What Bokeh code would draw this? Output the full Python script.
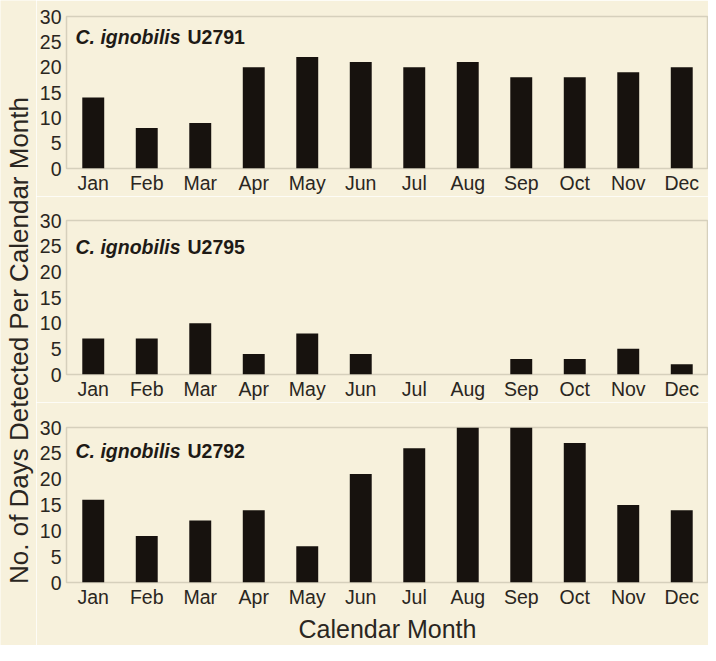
import math
from bokeh.plotting import figure
from bokeh.layouts import row, column
from bokeh.models import ColumnDataSource, FactorRange, Range1d, FixedTicker, Label
from bokeh.embed import file_html
from bokeh.resources import INLINE

# ---- data ----
months = ["Jan", "Feb", "Mar", "Apr", "May", "Jun", "Jul", "Aug", "Sep", "Oct", "Nov", "Dec"]
days_u2791 = [14, 8, 9, 20, 22, 21, 20, 21, 18, 18, 19, 20]
days_u2795 = [7, 7, 10, 4, 8, 4, 0, 0, 3, 3, 5, 2]
days_u2792 = [16, 9, 12, 14, 7, 21, 26, 30, 30, 27, 15, 14]
species = "C. ignobilis"
tags = ["U2791", "U2795", "U2792"]
y_ticks = [0, 5, 10, 15, 20, 25, 30]
y_title = "No. of Days Detected Per Calendar Month"
x_title = "Calendar Month"

BG = "#f7f1dc"
BAR = "#17120e"
TXT = "#2a2621"
LINE = "#d6d0bc"
FONT = "Liberation Sans"

TOTAL_H = 645
TITLE_W = 36
PANEL_W = 672


def panel(values, tag, height, top, bottom, label_y, show_xtitle=False):
    p = figure(x_range=FactorRange(*months, range_padding=0), y_range=Range1d(0, 30),
               width=PANEL_W, height=height, output_backend="svg", toolbar_location=None,
               min_border_left=30, min_border_right=0, min_border_top=top, min_border_bottom=bottom,
               background_fill_color=BG, border_fill_color=BG)
    src = ColumnDataSource(dict(m=months, v=values))
    p.vbar(x="m", top="v", width=0.41, bottom=0, source=src, fill_color=BAR, line_color=None)
    p.xgrid.visible = False
    p.ygrid.visible = False
    p.outline_line_color = LINE
    p.outline_line_width = 1.5
    for ax in (p.xaxis[0], p.yaxis[0]):
        ax.axis_line_color = None
        ax.major_tick_line_color = None
        ax.minor_tick_line_color = None
        ax.major_tick_out = 0
        ax.major_tick_in = 0
        ax.major_label_text_font = FONT
        ax.major_label_text_font_size = "19.5px"
        ax.major_label_text_color = TXT
    p.xaxis.major_label_standoff = 3
    p.yaxis.major_label_standoff = 5
    p.yaxis.ticker = FixedTicker(ticks=y_ticks)
    if show_xtitle:
        p.xaxis.axis_label = x_title
        p.xaxis.axis_label_text_font = FONT
        p.xaxis.axis_label_text_font_size = "25px"
        p.xaxis.axis_label_text_font_style = "normal"
        p.xaxis.axis_label_text_color = TXT
        p.xaxis.axis_label_standoff = 4
    p.add_layout(Label(x=0, y=label_y, x_offset=9, text=species, text_font=FONT,
                       text_font_size="19.5px", text_font_style="bold italic",
                       text_color="#1e1a16", text_baseline="alphabetic"))
    p.add_layout(Label(x=0, y=label_y, x_offset=121, text=tag, text_font=FONT,
                       text_font_size="19.5px", text_font_style="bold",
                       text_color="#1e1a16", text_baseline="alphabetic"))
    return p


p1 = panel(days_u2791, tags[0], 196, 16, 26, 25.9)
p2 = panel(days_u2795, tags[1], 206, 24, 26, 24.8)
p3 = panel(days_u2792, tags[2], 243, 25, 61, 25.4, show_xtitle=True)

t = figure(width=TITLE_W, height=TOTAL_H, x_range=Range1d(0, TITLE_W), y_range=Range1d(0, TOTAL_H),
           output_backend="svg", toolbar_location=None, min_border=0,
           background_fill_color=BG, border_fill_color=BG)
t.axis.visible = False
t.grid.visible = False
t.outline_line_color = None
t.add_layout(Label(x=18, y=305, text=y_title, angle=math.pi / 2, text_font=FONT,
                   text_font_size="26px", text_color=TXT, text_align="center",
                   text_baseline="middle"))

p = row(t, column(p1, p2, p3, spacing=0), spacing=0)

open("out.html", "w").write(file_html(p, INLINE))
